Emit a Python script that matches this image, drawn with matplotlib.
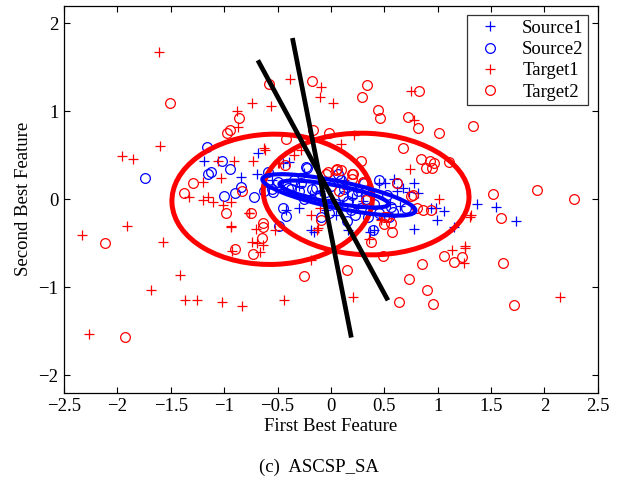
import numpy as np
import matplotlib
matplotlib.use("Agg")
import matplotlib.pyplot as plt
from matplotlib.patches import Ellipse

plt.rcParams['font.family'] = ['Liberation Serif', 'DejaVu Serif']
plt.rcParams['mathtext.fontset'] = 'stix'

# --- data ---
source1 = [
    (-0.68, 0.53), (-1.19, 0.44), (-0.84, 0.25), (-0.69, 0.29), (-0.45, 0.41), (-0.39, 0.42),
    (-0.42, -0.12), (-0.19, -0.35), (-0.30, -0.10), (0.16, -0.35), (-0.16, -0.37),
    (0.35, 0.15), (0.45, 0.18), (0.51, 0.19), (0.59, 0.23), (0.68, 0.13), (0.78, 0.19),
    (0.73, 0.08), (0.82, 0.07), (0.62, 0.10), (1.06, -0.13), (0.94, -0.10), (0.98, -0.10),
    (0.99, -0.23), (0.78, -0.34), (1.15, -0.32), (1.37, -0.05), (1.55, -0.09), (1.73, -0.25),
    (0.40, -0.35), (0.37, -0.37), (0.28, 0.08), (0.47, -0.22),
    (-0.55, 0.22), (-0.30, 0.15), (-0.20, 0.05), (-0.10, 0.10), (0.00, 0.00), (0.10, -0.05),
    (0.20, 0.02), (0.25, -0.10), (0.05, -0.18), (-0.05, -0.12), (0.15, 0.12), (0.30, -0.02),
    (0.40, 0.05), (-0.45, 0.12), (0.55, -0.05), (0.65, -0.08), (0.12, 0.22), (-0.25, 0.30),
]
source2 = [
    (-1.74, 0.24), (-1.16, 0.60), (-1.02, 0.44), (-0.95, 0.34), (-1.15, 0.29), (-1.12, 0.31),
    (-0.84, 0.14), (-0.90, 0.07), (-1.00, 0.04), (-0.23, 0.37), (-0.59, 0.31), (-0.72, 0.03),
    (-0.63, 0.10), (-0.54, 0.08), (-0.45, -0.10), (-0.42, -0.19), (-0.49, -0.30), (-0.40, 0.13),
    (-0.37, 0.12), (-0.30, 0.10), (-0.22, 0.36), (-0.14, 0.13), (-0.09, -0.20), (-0.02, -0.16),
    (0.07, 0.29), (0.09, 0.22), (0.31, 0.18), (0.45, 0.22), (0.53, 0.05), (0.62, 0.18),
    (0.56, -0.09), (0.58, -0.14), (0.39, -0.35), (0.54, -0.20), (0.11, 0.04), (0.16, -0.02),
    (0.19, -0.12), (0.23, -0.18), (0.28, -0.10),
    (-0.50, 0.20), (-0.35, 0.22), (-0.28, 0.18), (-0.18, 0.12), (-0.12, 0.02), (-0.05, 0.08),
    (0.00, 0.15), (0.05, -0.05), (0.12, 0.12), (0.20, 0.05), (0.25, 0.10), (0.33, 0.00),
    (0.40, -0.05), (0.45, -0.15), (0.35, -0.20), (0.15, -0.25), (-0.10, 0.05), (-0.25, 0.00),
    (-0.55, 0.12), (0.70, -0.10),
]
target1 = [
    (-1.61, 1.67), (-1.60, 0.61), (-1.96, 0.49), (-1.85, 0.46), (-0.38, 1.37), (-0.09, 1.28),
    (-0.10, 1.16), (0.02, 1.09), (-0.74, 1.09), (-0.56, 1.06), (-0.88, 1.00), (-0.87, 0.82),
    (-0.62, 0.56), (-0.35, 0.50), (-0.28, 0.56), (-0.50, 0.41), (-0.73, 0.44), (-0.91, 0.44),
    (-1.06, 0.44), (-1.03, 0.24), (-1.20, 0.20), (-1.33, 0.03),
    (0.75, 1.23), (0.78, 0.90), (0.22, 0.73), (0.09, 0.63), (0.74, 0.35), (1.01, 0.00),
    (-2.33, -0.41), (-1.91, -0.30), (-1.57, -0.48), (-1.41, -0.86), (-1.69, -1.03),
    (-1.37, -1.14), (-1.25, -1.14), (-1.02, -1.17), (-0.83, -1.21), (-0.44, -1.15),
    (-2.27, -1.53), (-0.94, -0.30), (-0.77, -0.16), (-0.74, -0.48), (-0.69, -0.50),
    (-0.66, -0.60), (-0.93, -0.59), (-0.70, -0.34), (-0.19, -0.69), (-0.13, -0.35), (-0.10, -0.10),
    (0.21, -1.11), (2.15, -1.11), (1.13, -0.58), (1.26, -0.55), (1.25, -0.72), (1.30, -0.20),
    (0.36, -0.45), (-1.15, 0.03), (-1.20, -0.01), (-1.10, -0.03), (-1.01, -0.07), (-0.94, -0.03),
    (-0.63, 0.58), (-0.49, 0.41), (-0.19, -0.18), (-0.12, -0.33), (0.47, -0.24), (-0.64, -0.52),
    (-0.52, -0.35), (-0.94, -0.32), (-0.77, -0.16), (1.31, -0.18), (1.26, -0.53),
]
target2 = [
    (-1.51, 1.09), (-0.58, 1.31), (-0.18, 1.34), (-0.86, 0.92), (-0.95, 0.79), (-0.97, 0.75),
    (-0.42, 0.68), (-0.17, 0.79), (-0.02, 0.75), (-0.43, 0.39), (-0.05, 0.29), (0.05, 0.33),
    (-1.29, 0.18), (-1.38, 0.07), (-0.83, 0.10),
    (0.34, 1.30), (0.29, 1.16), (0.83, 1.23), (0.44, 1.01), (0.46, 0.92), (0.72, 0.93),
    (0.82, 0.81), (1.01, 0.75), (1.33, 0.83), (0.68, 0.58), (0.84, 0.46), (0.93, 0.43),
    (0.97, 0.41), (0.89, 0.36), (0.95, 0.36), (1.11, 0.42), (0.28, 0.44), (0.09, 0.33),
    (0.20, 0.29), (0.20, 0.23), (0.30, 0.20), (1.52, 0.06), (1.93, 0.11), (2.28, 0.00),
    (-2.12, -0.50), (-1.93, -1.56), (-0.25, -0.87), (-0.90, -0.56), (-0.73, -0.62),
    (-0.65, -0.44), (-0.64, -0.31), (-0.98, -0.16), (-0.75, -0.16),
    (0.15, -0.80), (0.64, -1.17), (0.96, -1.19), (1.72, -1.20), (0.73, -0.91), (0.90, -1.03),
    (0.85, -0.74), (1.06, -0.64), (1.15, -0.71), (1.23, -0.66), (1.61, -0.72), (0.49, -0.64),
    (0.38, -0.48), (0.57, -0.37), (1.59, -0.21), (0.75, 0.04), (0.86, -0.12), (0.94, -0.12),
    (0.50, -0.20), (0.50, -0.28), (-0.03, 0.31), (0.06, 0.35), (-0.64, -0.27), (-0.09, -0.24),
    (0.21, 0.29), (0.30, 0.19), (0.08, 0.10), (0.62, 0.18), (0.77, 0.05), (0.33, -0.01),
    (0.53, -0.20), (0.56, -0.27), (0.81, -0.10),
]

# ellipses: center x, center y, width, height, angle (deg), colour
ell_cx = [-0.55, 0.33, 0.075, 0.03]
ell_cy = [0.00, 0.06, 0.05, 0.06]
ell_w = [1.88, 1.93, 1.48, 1.05]
ell_h = [1.48, 1.38, 0.30, 0.20]
ell_ang = [3, -4, -14.5, -13]
ell_col = ['red', 'red', 'blue', 'blue']

# black direction lines (x0, y0, x1, y1)
line_x0 = [-0.674, -0.356]
line_y0 = [1.557, 1.807]
line_x1 = [0.524, 0.187]
line_y1 = [-1.125, -1.545]

fig = plt.figure(figsize=(6.22, 4.82), dpi=100)
ax = fig.add_axes([0.103, 0.185, 0.858, 0.803])

s1 = np.array(source1)
s2 = np.array(source2)
t1 = np.array(target1)
t2 = np.array(target2)

ax.plot(s1[:, 0], s1[:, 1], '+', color='blue', ms=7, mew=0.9, label='Source1')
ax.plot(s2[:, 0], s2[:, 1], 'o', color='blue', mfc='none', ms=7, mew=0.9, label='Source2')
ax.plot(t1[:, 0], t1[:, 1], '+', color='red', ms=7, mew=0.9, label='Target1')
ax.plot(t2[:, 0], t2[:, 1], 'o', color='red', mfc='none', ms=7, mew=0.9, label='Target2')

for cx, cy, w, h, a, c in zip(ell_cx, ell_cy, ell_w, ell_h, ell_ang, ell_col):
    lw = 3.6 if c == 'red' else 3.0
    ax.add_patch(Ellipse((cx, cy), w, h, angle=a, fill=False, edgecolor=c, lw=lw, zorder=3))

for x0, y0, x1, y1 in zip(line_x0, line_y0, line_x1, line_y1):
    ax.plot([x0, x1], [y0, y1], color='black', lw=3.4, zorder=4)

ax.set_xlim(-2.5, 2.5)
ax.set_ylim(-2.2, 2.2)
ax.set_xticks(np.arange(-2.5, 2.51, 0.5))
ax.set_yticks([-2, -1, 0, 1, 2])
ax.set_xticklabels(['\u22122.5', '\u22122', '\u22121.5', '\u22121', '\u22120.5', '0',
                    '0.5', '1', '1.5', '2', '2.5'])
ax.set_yticklabels(['\u22122', '\u22121', '0', '1', '2'])
ax.tick_params(direction='in', top=True, right=True, length=4, width=0.8, labelsize=13.5,
               pad=4)
for sp in ax.spines.values():
    sp.set_linewidth(0.9)

ax.set_xlabel('First Best Feature', fontsize=13.5, labelpad=2)
ax.set_ylabel('Second Best Feature', fontsize=13.5, labelpad=5)

leg = ax.legend(loc='upper right', fontsize=13.5, frameon=True, fancybox=False,
                edgecolor='black', borderaxespad=0.5, handlelength=2.0,
                handletextpad=0.7, borderpad=0.25, labelspacing=0.22)
leg.get_frame().set_linewidth(0.9)

fig.text(0.512, 0.012, '(c)  ASCSP_SA', ha='center', va='bottom', fontsize=13.5)

fig.savefig('out.png', dpi=100)
